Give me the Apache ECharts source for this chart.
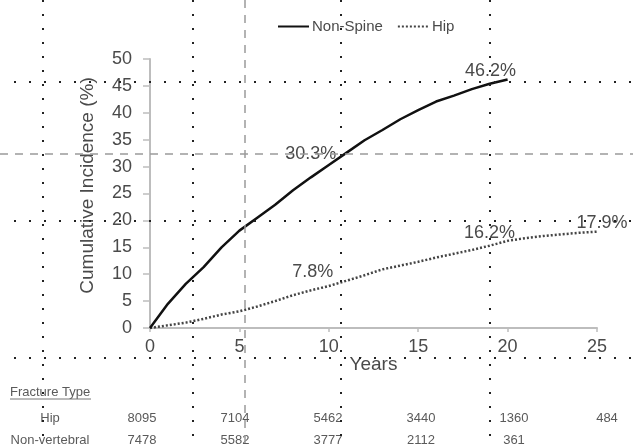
<!DOCTYPE html>
<html>
<head>
<meta charset="utf-8">
<script src="https://cdn.jsdelivr.net/npm/echarts@6/dist/echarts.min.js"></script>
<style>
  html, body { margin: 0; padding: 0; background: #fff; }
  #chart { width: 633px; height: 448px; }
</style>
</head>
<body>
<div id="chart"></div>
<script>
// Cumulative incidence of fractures by years of follow-up
const years = [0, 1, 2, 3, 4, 5, 6, 7, 8, 9, 10, 11, 12, 13, 14, 15, 16, 17, 18, 19, 20, 21, 22, 23, 24, 25];
const nonSpine = [0, 4.5, 8.2, 11.3, 15.0, 18.1, 20.5, 22.9, 25.6, 28.0, 30.3, 32.6, 34.9, 36.8, 38.8, 40.5, 42.1, 43.2, 44.4, 45.4, 46.2];
const hip = [0, 0.5, 1.0, 1.7, 2.5, 3.1, 4.0, 5.0, 6.1, 7.0, 7.8, 8.8, 9.8, 10.9, 11.6, 12.3, 13.1, 13.8, 14.5, 15.3, 16.2, 16.7, 17.1, 17.4, 17.7, 17.9];

// Years whose values are printed next to the curves
const nonSpineLabelYears = [10, 20];
const hipLabelYears = [10, 20, 25];

// Numbers at risk table
const riskRowNames = ['Hip', 'Non-vertebral'];
const hipAtRisk = [8095, 7104, 5462, 3440, 1360, 484];
const nonVertAtRisk = [7478, 5582, 3777, 2112, 361];

const yTicks = { min: 0, max: 50, interval: 5 };
const xTicks = { min: 0, max: 25, interval: 5 };

const chart = echarts.init(document.getElementById('chart'));
const font = '"Liberation Sans", Arial, sans-serif';
const textGrey = '#4a4a4a';

function pairs(values) {
  return values.map((v, i) => [years[i], v]);
}

function labelPoints(values, labelYears, offsets) {
  return labelYears.map((yr, k) => ({
    coord: [yr, values[years.indexOf(yr)]],
    value: values[years.indexOf(yr)],
    label: { offset: offsets[k] }
  }));
}

const markPointBase = {
  symbol: 'circle',
  symbolSize: 1,
  itemStyle: { color: 'rgba(0,0,0,0)' },
  label: {
    show: true,
    position: 'inside',
    color: textGrey,
    fontSize: 18,
    fontFamily: font,
    formatter: p => p.value.toFixed(1) + '%'
  }
};

// Guide lines over the plot area
const W = 633, H = 448;
const dotV = [43, 193, 341, 490];
const dotH = [82, 221, 358];
const guides = [];
dotV.forEach(x => guides.push({
  type: 'line', z: 100, silent: true,
  shape: { x1: x, y1: 0, x2: x, y2: H },
  style: { stroke: '#222', lineWidth: 2, lineDash: [2, 12] }
}));
dotH.forEach(y => guides.push({
  type: 'line', z: 100, silent: true,
  shape: { x1: 14, y1: y, x2: W, y2: y },
  style: { stroke: '#222', lineWidth: 2, lineDash: [2, 13] }
}));
guides.push({
  type: 'line', z: 99, silent: true,
  shape: { x1: 245, y1: 0, x2: 245, y2: H },
  style: { stroke: '#9a9a9a', lineWidth: 1.5, lineDash: [8, 7] }
});
guides.push({
  type: 'line', z: 99, silent: true,
  shape: { x1: 0, y1: 154, x2: W, y2: 154 },
  style: { stroke: '#9a9a9a', lineWidth: 1.5, lineDash: [8, 7] }
});

// Table text
const tableStyle = { fill: '#5a5a5a', fontSize: 13, fontFamily: font };
const tableEls = [];
tableEls.push({
  type: 'text', left: 10, top: 386,
  style: Object.assign({ text: 'Fracture Type' }, tableStyle)
});
tableEls.push({
  type: 'line',
  shape: { x1: 10, y1: 399, x2: 91, y2: 399 },
  style: { stroke: '#777', lineWidth: 1 }
});
const rowY = [418, 440];
const colX0 = 142, colStep = 93;
[hipAtRisk, nonVertAtRisk].forEach((row, r) => {
  tableEls.push({
    type: 'text', x: 50, y: rowY[r],
    style: Object.assign({ text: riskRowNames[r], align: 'center', verticalAlign: 'middle' }, tableStyle)
  });
  row.forEach((n, c) => tableEls.push({
    type: 'text', x: colX0 + colStep * c, y: rowY[r],
    style: Object.assign({ text: String(n), align: 'center', verticalAlign: 'middle' }, tableStyle)
  }));
});

chart.setOption({
  animation: false,
  backgroundColor: '#fff',
  textStyle: { fontFamily: font },
  grid: { left: 150, right: 36, top: 59, bottom: 120, containLabel: false },
  legend: {
    left: 272, top: 14,
    itemWidth: 31, itemHeight: 14, itemGap: 14,
    itemStyle: { opacity: 0 },
    textStyle: { color: textGrey, fontSize: 15, fontFamily: font, padding: [0, 0, 0, -2] },
    data: ['Non-Spine', 'Hip']
  },
  xAxis: {
    type: 'value',
    min: xTicks.min, max: xTicks.max, interval: xTicks.interval,
    name: 'Years', nameLocation: 'middle', nameGap: 27, nameMoveOverlap: false,
    nameTextStyle: { color: textGrey, fontSize: 19, fontFamily: font },
    axisLine: { lineStyle: { color: '#bdbdbd', width: 2 } },
    axisTick: { show: true, length: 4, lineStyle: { color: '#bdbdbd', width: 1.5 } },
    axisLabel: { color: textGrey, fontSize: 18, fontFamily: font, margin: 10 },
    splitLine: { show: false }
  },
  yAxis: {
    type: 'value',
    min: yTicks.min, max: yTicks.max, interval: yTicks.interval,
    name: 'Cumulative Incidence (%)', nameLocation: 'middle', nameGap: 53,
    nameTextStyle: { color: textGrey, fontSize: 19, fontFamily: font, padding: [0, 0, 0, 16] },
    axisLine: { show: true, lineStyle: { color: '#bdbdbd', width: 2 } },
    axisTick: { show: true, length: 7, lineStyle: { color: '#bdbdbd', width: 1.5 } },
    axisLabel: { color: textGrey, fontSize: 18, fontFamily: font, margin: 18 },
    splitLine: { show: false }
  },
  series: [
    {
      name: 'Non-Spine',
      type: 'line',
      data: pairs(nonSpine),
      showSymbol: false,
      symbol: 'none',
      lineStyle: { color: '#111', width: 2.5 },
      itemStyle: { color: '#111' },
      markPoint: Object.assign({}, markPointBase, {
        data: labelPoints(nonSpine, nonSpineLabelYears, [[-18, -11], [-17, -8]])
      }),
      z: 3
    },
    {
      name: 'Hip',
      type: 'line',
      data: pairs(hip),
      showSymbol: false,
      symbol: 'none',
      lineStyle: { color: '#444', width: 2.5, type: [2, 2] },
      itemStyle: { color: '#444' },
      markPoint: Object.assign({}, markPointBase, {
        data: labelPoints(hip, hipLabelYears, [[-16, -14], [-18, -8], [5, -9]])
      }),
      z: 2
    }
  ],
  graphic: tableEls.concat(guides)
});
</script>
</body>
</html>
